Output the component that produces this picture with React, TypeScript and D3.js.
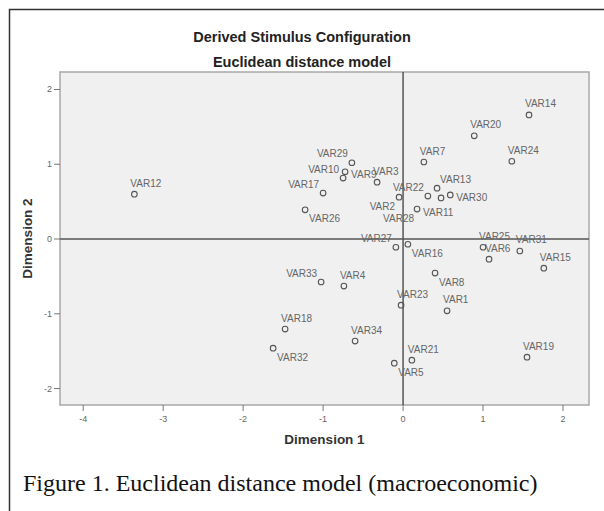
import React from "react";
import * as d3 from "d3";

const names = [
  "VAR1","VAR2","VAR3","VAR4","VAR5","VAR6","VAR7","VAR8","VAR9","VAR10",
  "VAR11","VAR12","VAR13","VAR14","VAR15","VAR16","VAR17","VAR18","VAR19","VAR20",
  "VAR21","VAR22","VAR23","VAR24","VAR25","VAR26","VAR27","VAR28","VAR29","VAR30",
  "VAR31","VAR32","VAR33","VAR34",
];
const dim1 = [
  0.55, -0.05, -0.325, -0.74, -0.11, 1.075, 0.26, 0.40, -0.725, -0.75,
  0.175, -3.36, 0.425, 1.575, 1.76, 0.06, -1.0, -1.475, 1.55, 0.89,
  0.11, 0.31, -0.025, 1.36, 1.0, -1.225, -0.09, 0.475, -0.64, 0.59,
  1.46, -1.625, -1.025, -0.6,
];
const dim2 = [
  -0.96, 0.56, 0.76, -0.63, -1.66, -0.27, 1.03, -0.455, 0.90, 0.815,
  0.40, 0.60, 0.68, 1.66, -0.39, -0.07, 0.615, -1.205, -1.58, 1.38,
  -1.62, 0.575, -0.885, 1.04, -0.11, 0.39, -0.11, 0.55, 1.02, 0.59,
  -0.16, -1.46, -0.575, -1.365,
];
// label placement code for each point
const labelSide = [
  "N", "SW", "N", "N", "SE", "N", "N", "SE", "E", "NW",
  "E", "N", "NE", "N", "N", "SE", "NW", "N", "N", "N",
  "N", "NW", "N", "N", "N", "SE", "NW", "FSW", "NW", "E",
  "N", "SE", "NW", "N",
];
const xTicks = [-4, -3, -2, -1, 0, 1, 2];
const yTicks = [-2, -1, 0, 1, 2];
const title1 = "Derived Stimulus Configuration";
const title2 = "Euclidean distance model";
const xTitle = "Dimension 1";
const yTitle = "Dimension 2";
const caption = "Figure 1. Euclidean distance model (macroeconomic)";

const W = 604, H = 511;
const L = 60, R = 589, T = 72, B = 405;

const placement: Record<string, { dx: number; dy: number; anchor: string }> = {
  N: { dx: -4, dy: -11, anchor: "start" },
  NW: { dx: -4, dy: -9, anchor: "end" },
  NE: { dx: 3, dy: -9, anchor: "start" },
  SE: { dx: 4, dy: 9, anchor: "start" },
  SW: { dx: -4, dy: 9, anchor: "end" },
  E: { dx: 6, dy: 3, anchor: "start" },
  FSW: { dx: -27, dy: 21, anchor: "end" },
};

export default function App() {
  const x = d3.scaleLinear().domain([-4.29, 2.325]).range([L, R]);
  const y = d3.scaleLinear().domain([-2.22, 2.234]).range([B, T]);
  const font = "Arial, 'Liberation Sans', sans-serif";
  const pts = names.map((n, i) => ({ n, x: dim1[i], y: dim2[i], s: labelSide[i] }));
  return (
    <svg width={W} height={H} style={{ position: "absolute", left: 0, top: 0, background: "#fff" }}>
      <path d={`M${W + 2},9.5H9.5V${H + 2}`} fill="none" stroke="#333" strokeWidth={1.5} />
      <text x={302} y={42} textAnchor="middle" fontFamily={font} fontWeight="bold" fontSize={14.5} fill="#222">{title1}</text>
      <text x={302} y={67} textAnchor="middle" fontFamily={font} fontWeight="bold" fontSize={14.5} fill="#222">{title2}</text>
      <rect x={L} y={T} width={R - L} height={B - T} fill="#f0f0f0" stroke="#a8a8a8" strokeWidth={1.5} />
      <line x1={x(0)} x2={x(0)} y1={T} y2={B} stroke="#555" strokeWidth={1.5} />
      <line x1={L} x2={R} y1={y(0)} y2={y(0)} stroke="#555" strokeWidth={1.5} />
      {xTicks.map((t) => (
        <g key={"x" + t}>
          <line x1={x(t)} x2={x(t)} y1={B} y2={B + 6} stroke="#777" strokeWidth={1} />
          <text x={x(t)} y={B + 17} textAnchor="middle" fontFamily={font} fontSize={9} fill="#666">{t}</text>
        </g>
      ))}
      {yTicks.map((t) => (
        <g key={"y" + t}>
          <line x1={L - 6} x2={L} y1={y(t)} y2={y(t)} stroke="#777" strokeWidth={1} />
          <text x={L - 8} y={y(t) + 3} textAnchor="end" fontFamily={font} fontSize={9} fill="#666">{t}</text>
        </g>
      ))}
      <text x={(L + R) / 2} y={444} textAnchor="middle" fontFamily={font} fontWeight="bold" fontSize={13.5} fill="#333">{xTitle}</text>
      <text transform={`translate(32,${(T + B) / 2}) rotate(-90)`} textAnchor="middle" fontFamily={font} fontWeight="bold" fontSize={13.5} fill="#333">{yTitle}</text>
      {pts.map((p) => {
        const cx = x(p.x), cy = y(p.y);
        const pl = placement[p.s];
        return (
          <g key={p.n}>
            <circle cx={cx} cy={cy} r={2.8} fill="none" stroke="#555" strokeWidth={1.1} />
            <text x={cx + pl.dx} y={cy + pl.dy + 3.5} textAnchor={pl.anchor} fontFamily={font} fontSize={10} fill="#666">{p.n}</text>
          </g>
        );
      })}
      <text x={23} y={491} fontFamily="'Liberation Serif', 'Times New Roman', serif" fontSize={24} fill="#111">{caption}</text>
    </svg>
  );
}
